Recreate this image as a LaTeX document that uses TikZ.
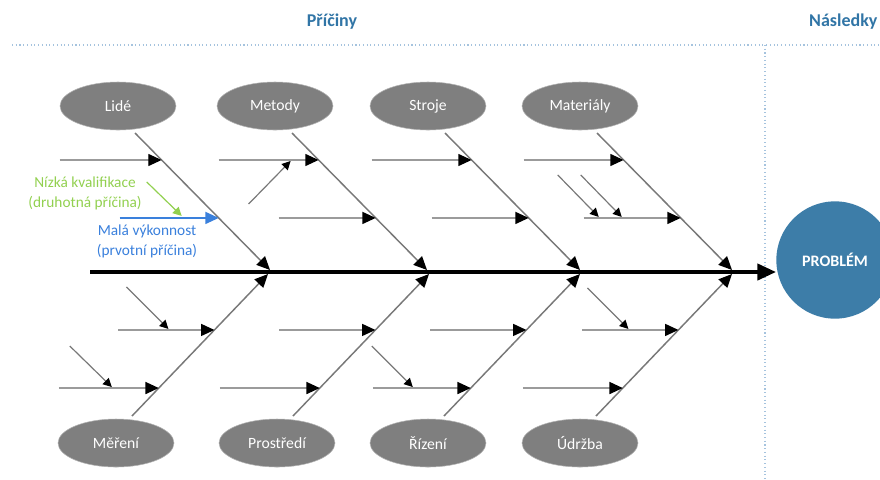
\documentclass[tikz,border=0pt]{standalone}
\usepackage{fontspec}
\setmainfont{Carlito}
\usetikzlibrary{arrows.meta,calc,shapes.geometric}

\definecolor{causegray}{RGB}{127,127,127}
\definecolor{titleblue}{RGB}{49,117,166}
\definecolor{problemblue}{RGB}{61,125,168}
\definecolor{qualgreen}{RGB}{146,208,80}
\definecolor{perfblue}{RGB}{58,128,220}
\definecolor{bonegray}{RGB}{120,120,120}
\definecolor{subgray}{RGB}{155,155,155}
\definecolor{dotblue}{RGB}{165,195,222}

\tikzset{
  cause/.style={ellipse, fill=causegray, draw=causegray!60!white, minimum width=87pt, minimum height=36pt, inner sep=0pt, text=white, font=\fontsize{11.75}{13}\selectfont},
  problem/.style={circle, fill=problemblue, minimum size=88pt, inner sep=0pt, text=white, font=\bfseries\fontsize{12}{14}\selectfont},
  heading/.style={text=titleblue, font=\bfseries\fontsize{13.5}{15}\selectfont},
  remark/.style={align=center, font=\fontsize{11.5}{15}\selectfont},
  dotline/.style={draw=dotblue, line width=0.8pt, dotted},
  spine/.style={draw=black, line width=3pt, -{Triangle[length=14pt,width=12pt]}},
  bone/.style={draw=bonegray, line width=1.1pt, -{Triangle[length=10pt,width=9pt,color=black]}},
  sub/.style={draw=subgray, line width=1.1pt, -{Triangle[length=10pt,width=9pt,color=black]}},
  twig/.style={draw=bonegray, line width=0.9pt, -{Triangle[length=6.5pt,width=6.5pt,color=black]}}
}

\begin{document}
\begin{tikzpicture}[x=0.75pt,y=0.75pt,yscale=-1,xscale=1]
    \useasboundingbox (0,0) rectangle (880,479);

    % headings and dividers
    \node [heading] (causes) at (332,22) {Příčiny};
    \node [heading, anchor=east, inner xsep=1pt] (effects) at (879,22) {Následky};
    \coordinate (headL) at (12,45);
    \coordinate (headR) at (880,45);
    \coordinate (splitT) at (765,45);
    \coordinate (splitB) at (765,479);
    \draw [dotline] (headL) -- (headR);
    \draw [dotline] (splitT) -- (splitB);

    % spine
    \node [problem] (problem) at (835,260) {PROBLÉM};
    \coordinate (spineS) at (90,272);
    \draw [spine] (spineS) -- (spineS -| problem.west);

    % top causes
    \node [cause] (lide) at (118,106) {Lidé};
    \node [cause] (metody) at (275,106) {Metody};
    \node [cause] (stroje) at (428,106) {Stroje};
    \node [cause] (materialy) at (580,106) {Materiály};
    \draw [bone] ($(lide)+(17,27)$) -- ($(lide)+(152,164)$) coordinate[pos=0.197] (lide1) coordinate[pos=0.62] (lide2);
    \draw [bone] ($(metody)+(17,27)$) -- ($(metody)+(152,164)$) coordinate[pos=0.197] (metody1) coordinate[pos=0.62] (metody2);
    \draw [bone] ($(stroje)+(17,27)$) -- ($(stroje)+(152,164)$) coordinate[pos=0.197] (stroje1) coordinate[pos=0.62] (stroje2);
    \draw [bone] ($(materialy)+(17,27)$) -- ($(materialy)+(152,164)$) coordinate[pos=0.197] (materialy1) coordinate[pos=0.62] (materialy2);

    % bottom causes
    \node [cause] (mereni) at (116,443) {Měření};
    \node [cause] (prostredi) at (277,443) {Prostředí};
    \node [cause] (rizeni) at (428,443) {Řízení};
    \node [cause] (udrzba) at (580,443) {Údržba};
    \draw [bone] ($(mereni)+(16,-27)$) -- ($(mereni)+(152,-169)$) coordinate[pos=0.606] (mereni1) coordinate[pos=0.197] (mereni2);
    \draw [bone] ($(prostredi)+(16,-27)$) -- ($(prostredi)+(152,-169)$) coordinate[pos=0.606] (prostredi1) coordinate[pos=0.197] (prostredi2);
    \draw [bone] ($(rizeni)+(16,-27)$) -- ($(rizeni)+(152,-169)$) coordinate[pos=0.606] (rizeni1) coordinate[pos=0.197] (rizeni2);
    \draw [bone] ($(udrzba)+(16,-27)$) -- ($(udrzba)+(152,-169)$) coordinate[pos=0.606] (udrzba1) coordinate[pos=0.197] (udrzba2);

    % sub causes, top
    \draw [sub] (lide1) ++(-102,0) -- (lide1);
    \draw [sub] (metody1) ++(-100,0) -- (metody1);
    \draw [sub] (stroje1) ++(-100,0) -- (stroje1);
    \draw [sub] (materialy1) ++(-100,0) -- (materialy1);
    \draw [sub, draw=perfblue, -{Triangle[length=10pt,width=9pt,color=perfblue]}] (lide2) ++(-99,0) -- (lide2);
    \draw [sub] (metody2) ++(-97,0) -- (metody2);
    \draw [sub] (stroje2) ++(-97,0) -- (stroje2);
    \draw [sub] (materialy2) ++(-97,0) -- (materialy2);

    % sub causes, bottom
    \draw [sub] (mereni1) ++(-96,0) -- (mereni1);
    \draw [sub] (prostredi1) ++(-96,0) -- (prostredi1);
    \draw [sub] (rizeni1) ++(-96,0) -- (rizeni1);
    \draw [sub] (udrzba1) ++(-96,0) -- (udrzba1);
    \draw [sub] (mereni2) ++(-100,0) -- (mereni2);
    \draw [sub] (prostredi2) ++(-100,0) -- (prostredi2);
    \draw [sub] (rizeni2) ++(-98,0) -- (rizeni2);
    \draw [sub] (udrzba2) ++(-100,0) -- (udrzba2);

    % second level
    \draw [twig, draw=qualgreen, -{Triangle[length=6.5pt,width=6.5pt,color=qualgreen]}] ($(lide2)+(-72,-36)$) -- ($(lide2)+(-37,-2)$);
    \draw [twig] ($(metody1)+(-70,44)$) -- ($(metody1)+(-28,1)$);
    \draw [twig] ($(materialy2)+(-123,-43)$) -- ($(materialy2)+(-82,-1)$);
    \draw [twig] ($(materialy2)+(-100,-43)$) -- ($(materialy2)+(-59,-1)$);
    \draw [twig] ($(mereni1)+(-88,-43)$) -- ($(mereni1)+(-46,-1)$);
    \draw [twig] ($(mereni2)+(-89,-42)$) -- ($(mereni2)+(-47,-1)$);
    \draw [twig] ($(rizeni2)+(-99,-42)$) -- ($(rizeni2)+(-58,-1)$);
    \draw [twig] ($(udrzba1)+(-91,-42)$) -- ($(udrzba1)+(-50,-1)$);

    \node [remark, text=qualgreen] (lowqual) at (85,193) {Nízká kvalifikace\\(druhotná příčina)};
    \node [remark, text=perfblue] (lowperf) at (147,241) {Malá výkonnost\\(prvotní příčina)};

\end{tikzpicture}
\end{document}
